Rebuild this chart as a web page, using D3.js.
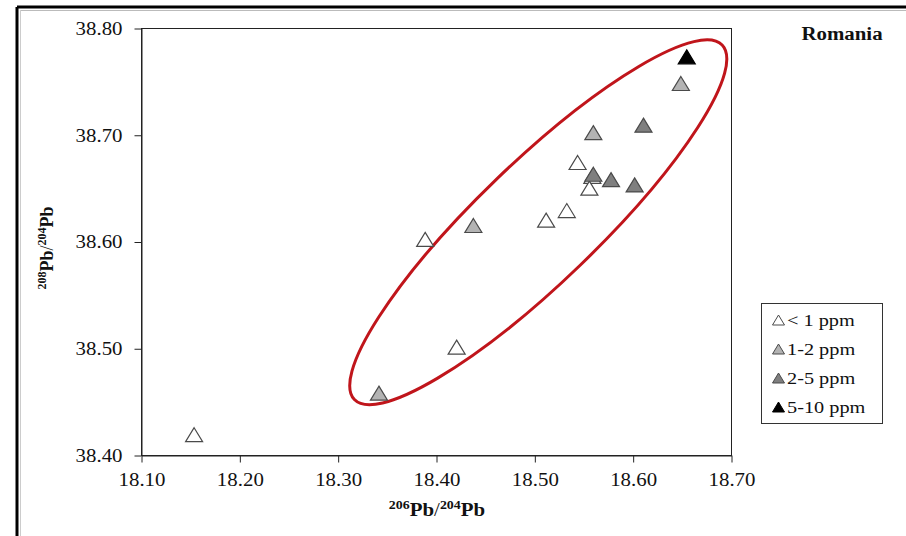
<!DOCTYPE html>
<html>
<head>
<meta charset="utf-8">
<script src="https://cdn.jsdelivr.net/npm/d3@7/dist/d3.min.js"></script>
<style>
  html, body { margin: 0; padding: 0; background: #fff; }
  svg { display: block; }
  text { font-family: "Liberation Serif", "Times New Roman", serif; fill: #111; }
</style>
</head>
<body>
<svg id="chart" width="906" height="536"></svg>
<script>
// ---------------- data ----------------
const chartTitle = "Romania";
const categories = ["< 1 ppm", "1-2 ppm", "2-5 ppm", "5-10 ppm"];
const xTicks = [18.10, 18.20, 18.30, 18.40, 18.50, 18.60, 18.70];
const yTicks = [38.40, 38.50, 38.60, 38.70, 38.80];

// < 1 ppm
const lt1X = [18.154, 18.389, 18.421, 18.512, 18.533, 18.544, 18.559, 18.556];
const lt1Y = [38.419, 38.602, 38.501, 38.620, 38.629, 38.674, 38.661, 38.650];
// 1-2 ppm
const r12X = [18.342, 18.438, 18.560, 18.649];
const r12Y = [38.458, 38.615, 38.702, 38.748];
// 2-5 ppm
const r25X = [18.560, 18.578, 18.602, 18.611];
const r25Y = [38.663, 38.658, 38.653, 38.709];
// 5-10 ppm
const r510X = [18.655];
const r510Y = [38.773];

// ellipse (data units for centre and end of major axis)
const ellipseCenter = [18.504, 38.618];
const ellipseVertex = [18.691, 38.784];

// ---------------- layout / style ----------------
const fills = ["#ffffff", "#b3b3b3", "#7f7f7f", "#000000"];
const SX = 1.16; // horizontal text stretch of the original
const plot = { left: 141, right: 731, top: 28, bottom: 455 };

const svg = d3.select("#chart");

// outer frame
svg.append("line").attr("x1", 17).attr("x2", 906).attr("y1", 7).attr("y2", 7)
  .attr("stroke", "#000").attr("stroke-width", 3);
svg.append("line").attr("x1", 17).attr("x2", 17).attr("y1", 7).attr("y2", 536)
  .attr("stroke", "#000").attr("stroke-width", 3);
svg.append("line").attr("x1", 20).attr("x2", 906).attr("y1", 10.5).attr("y2", 10.5)
  .attr("stroke", "#bbb").attr("stroke-width", 1);
svg.append("line").attr("x1", 20.5).attr("x2", 20.5).attr("y1", 10).attr("y2", 536)
  .attr("stroke", "#ccc").attr("stroke-width", 1);

const x = d3.scaleLinear().domain([18.10, 18.70]).range([plot.left, plot.right]);
const y = d3.scaleLinear().domain([38.40, 38.80]).range([plot.bottom, plot.top]);

// plot frame
svg.append("rect")
  .attr("x", plot.left + 0.5).attr("y", plot.top + 0.5)
  .attr("width", plot.right - plot.left).attr("height", plot.bottom - plot.top)
  .attr("fill", "none").attr("stroke", "#222").attr("stroke-width", 1);

// axes
const xAxis = d3.axisBottom(x).tickValues(xTicks).tickFormat(d3.format(".2f"))
  .tickSize(7).tickSizeOuter(0);
const yAxis = d3.axisLeft(y).tickValues(yTicks).tickFormat(d3.format(".2f"))
  .tickSize(7).tickSizeOuter(0);

const gx = svg.append("g").attr("transform", `translate(0.5,${plot.bottom + 0.5})`).call(xAxis);
const gy = svg.append("g").attr("transform", `translate(${plot.left + 0.5},0.5)`).call(yAxis);
[gx, gy].forEach(g => {
  g.selectAll("path.domain").attr("stroke", "#222");
  g.selectAll(".tick line").attr("stroke", "#222");
  g.selectAll(".tick text").attr("font-family", "Liberation Serif, Times New Roman, serif")
    .attr("font-size", 18).attr("fill", "#111");
});
gx.selectAll(".tick text").attr("y", 0).attr("dy", 0)
  .attr("transform", `translate(0,30) scale(${SX},1)`);
gy.selectAll(".tick text").attr("x", 0).attr("dy", "0.32em")
  .attr("transform", `translate(-19,0) scale(${SX},1)`);

// axis titles
function pbTitle(sel, a, b) {
  sel.append("tspan").attr("font-size", 12).attr("dy", -7).text(a);
  sel.append("tspan").attr("font-size", 18).attr("dy", 7).text("Pb");
  sel.append("tspan").attr("font-size", 18).attr("font-weight", "normal").text("/");
  sel.append("tspan").attr("font-size", 12).attr("dy", -7).text(b);
  sel.append("tspan").attr("font-size", 18).attr("dy", 7).text("Pb");
}
const xt = svg.append("text")
  .attr("transform", `translate(437,516) scale(${SX},1)`)
  .attr("text-anchor", "middle").attr("font-weight", "bold");
pbTitle(xt, "206", "204");
const yt = svg.append("text")
  .attr("transform", `translate(53,248) rotate(-90)`)
  .attr("text-anchor", "middle").attr("font-weight", "bold");
pbTitle(yt, "208", "204");

// title
svg.append("text")
  .attr("transform", `translate(842,40) scale(${SX},1)`)
  .attr("text-anchor", "middle").attr("font-weight", "bold").attr("font-size", 18)
  .text(chartTitle);

// ellipse
const cxp = x(ellipseCenter[0]), cyp = y(ellipseCenter[1]);
const vxp = x(ellipseVertex[0]), vyp = y(ellipseVertex[1]);
const rx = Math.hypot(vxp - cxp, vyp - cyp);
const ang = Math.atan2(vyp - cyp, vxp - cxp) * 180 / Math.PI;
svg.append("ellipse")
  .attr("cx", 0).attr("cy", 0).attr("rx", rx).attr("ry", 60)
  .attr("transform", `translate(${cxp},${cyp}) rotate(${ang})`)
  .attr("fill", "none").attr("stroke", "#c0151b").attr("stroke-width", 3);

// triangles
function tri(w, h) {
  return `M0,${-h / 2}L${w / 2},${h / 2}L${-w / 2},${h / 2}Z`;
}
const series = [
  { xs: lt1X, ys: lt1Y },
  { xs: r12X, ys: r12Y },
  { xs: r25X, ys: r25Y },
  { xs: r510X, ys: r510Y }
];
series.forEach((s, i) => {
  svg.append("g").selectAll("path")
    .data(s.xs.map((v, k) => [v, s.ys[k]]))
    .join("path")
    .attr("d", tri(17, 14))
    .attr("transform", d => `translate(${x(d[0])},${y(d[1])})`)
    .attr("fill", fills[i])
    .attr("stroke", i === 3 ? "#000" : "#4a4a4a")
    .attr("stroke-width", 1.2);
});

// legend
const lg = svg.append("g");
lg.append("rect").attr("x", 761.5).attr("y", 303.5).attr("width", 121).attr("height", 120)
  .attr("fill", "#fff").attr("stroke", "#333").attr("stroke-width", 1);
const rowY = d3.scalePoint().domain(categories).range([320, 407]);
categories.forEach((c, i) => {
  lg.append("path").attr("d", tri(12, 10))
    .attr("transform", `translate(778.5,${rowY(c)})`)
    .attr("fill", fills[i]).attr("stroke", i === 3 ? "#000" : "#4a4a4a").attr("stroke-width", 1);
  lg.append("text")
    .attr("transform", `translate(787,${rowY(c) + 6}) scale(${SX},1)`)
    .attr("font-size", 17.5).text(c);
});
</script>
</body>
</html>
